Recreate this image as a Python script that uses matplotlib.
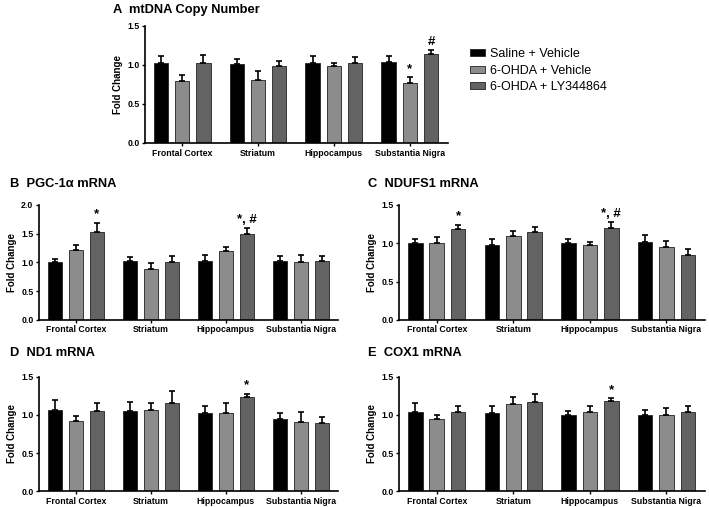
import numpy as np
import matplotlib
matplotlib.use('Agg')
import matplotlib.pyplot as plt
from matplotlib.patches import Patch

plt.rcParams['font.family'] = ['Liberation Sans', 'DejaVu Sans']

regions = ['Frontal Cortex', 'Striatum', 'Hippocampus', 'Substantia Nigra']
groups = ['Saline + Vehicle', '6-OHDA + Vehicle', '6-OHDA + LY344864']
colors = ['#000000', '#8c8c8c', '#636363']

# mean values per group (rows) and region (cols), with SEM
a_mean = [[1.02, 1.01, 1.03, 1.04], [0.79, 0.81, 0.98, 0.77], [1.02, 0.98, 1.03, 1.14]]
a_err = [[0.10, 0.06, 0.08, 0.08], [0.08, 0.11, 0.04, 0.07], [0.11, 0.07, 0.07, 0.05]]
b_mean = [[1.00, 1.02, 1.03, 1.02], [1.21, 0.89, 1.19, 1.01], [1.52, 1.01, 1.49, 1.03]]
b_err = [[0.05, 0.07, 0.10, 0.09], [0.09, 0.10, 0.08, 0.12], [0.17, 0.10, 0.10, 0.08]]
c_mean = [[1.00, 0.97, 1.00, 1.02], [1.00, 1.10, 0.98, 0.95], [1.19, 1.15, 1.20, 0.85]]
c_err = [[0.05, 0.08, 0.05, 0.09], [0.08, 0.06, 0.04, 0.08], [0.05, 0.06, 0.07, 0.08]]
d_mean = [[1.06, 1.05, 1.02, 0.95], [0.92, 1.07, 1.02, 0.91], [1.05, 1.16, 1.24, 0.90]]
d_err = [[0.14, 0.12, 0.09, 0.07], [0.07, 0.09, 0.13, 0.13], [0.11, 0.15, 0.04, 0.07]]
e_mean = [[1.04, 1.02, 1.00, 1.00], [0.94, 1.14, 1.04, 1.00], [1.04, 1.17, 1.18, 1.04]]
e_err = [[0.12, 0.09, 0.05, 0.06], [0.06, 0.10, 0.07, 0.09], [0.08, 0.11, 0.04, 0.08]]

# significance marks: (group, region, text)
a_sig = [(1, 3, '*'), (2, 3, '#')]
b_sig = [(2, 0, '*'), (2, 2, '*, #')]
c_sig = [(2, 0, '*'), (2, 2, '*, #')]
d_sig = [(2, 2, '*')]
e_sig = [(2, 2, '*')]

fig = plt.figure(figsize=(7.09, 5.07), dpi=100)


def panel(rect, means, errs, sigs, ymax, title, tx, ty):
    ax = fig.add_axes(rect)
    x = np.arange(len(regions))
    w = 0.19
    off = 0.28
    for i in range(3):
        ax.bar(x + (i - 1) * off, means[i], w, color=colors[i],
               edgecolor='#222222', linewidth=0.6, zorder=2)
        ax.errorbar(x + (i - 1) * off, means[i],
                    yerr=[np.zeros(4), errs[i]], fmt='none',
                    ecolor='black', elinewidth=1.2, capsize=2.5,
                    capthick=1.2, zorder=3)
    for g, r, t in sigs:
        ax.text(r + (g - 1) * off, means[g][r] + errs[g][r] + 0.02 * ymax, t,
                ha='center', va='bottom', fontsize=9.5, fontweight='bold')
    ax.set_xlim(-0.49, 3.5)
    ax.set_ylim(0, ymax)
    yt = np.arange(0, ymax + 0.01, 0.5)
    ax.set_yticks(yt)
    ax.set_yticklabels(['%.1f' % v for v in yt])
    ax.set_xticks(x)
    ax.set_xticklabels(regions)
    for s in ['top', 'right']:
        ax.spines[s].set_visible(False)
    ax.spines['left'].set_linewidth(1.2)
    ax.spines['bottom'].set_linewidth(1.2)
    ax.tick_params(axis='both', labelsize=6.3, width=1.0, length=2.5, pad=1.5)
    for lab in ax.get_xticklabels() + ax.get_yticklabels():
        lab.set_fontweight('bold')
    ax.set_ylabel('Fold Change', fontsize=7, fontweight='bold', labelpad=3)
    fig.text(tx, ty, title, fontsize=9.3, fontweight='bold', va='center')
    return ax


axA = panel([0.2045, 0.718, 0.427, 0.231], a_mean, a_err, a_sig, 1.5,
            'A  mtDNA Copy Number', 0.160, 0.980)
axB = panel([0.055, 0.369, 0.422, 0.227], b_mean, b_err, b_sig, 2.0,
            'B  PGC-1α mRNA', 0.014, 0.637)
axC = panel([0.563, 0.369, 0.431, 0.227], c_mean, c_err, c_sig, 1.5,
            'C  NDUFS1 mRNA', 0.519, 0.637)
axD = panel([0.055, 0.031, 0.422, 0.226], d_mean, d_err, d_sig, 1.5,
            'D  ND1 mRNA', 0.014, 0.304)
axE = panel([0.563, 0.031, 0.431, 0.226], e_mean, e_err, e_sig, 1.5,
            'E  COX1 mRNA', 0.519, 0.304)

handles = [Patch(facecolor=c, edgecolor='#222222', linewidth=0.6) for c in colors]
fig.legend(handles, groups, loc='upper left', bbox_to_anchor=(0.663, 0.905),
           frameon=False, fontsize=9, handlelength=1.2, handleheight=0.5,
           handletextpad=0.4, labelspacing=0.35, borderpad=0, borderaxespad=0)

fig.savefig('out.png', dpi=100)
